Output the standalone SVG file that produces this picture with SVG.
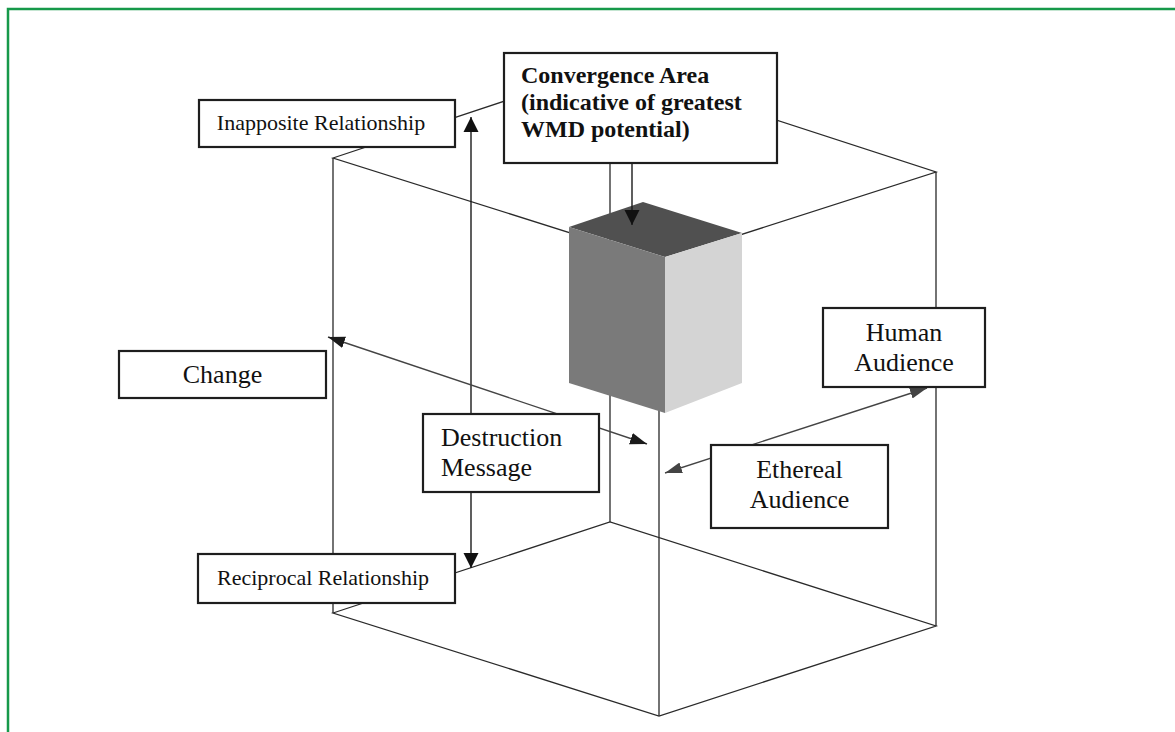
<svg xmlns="http://www.w3.org/2000/svg" width="1175" height="732" viewBox="0 0 1175 732">
<style>
.frame{fill:none;stroke:#16994a;stroke-width:2.5}
.edge{fill:none;stroke:#2a2a2a;stroke-width:1.3}
.conn{fill:none;stroke:#1a1a1a;stroke-width:1.4}
.conn2{fill:none;stroke:#444;stroke-width:1.4}
.box{fill:#fff;stroke:#1e1e1e;stroke-width:2.2}
.t{font-family:"Liberation Serif","Times New Roman",serif;fill:#111}
.s22{font-size:22px}
.s26{font-size:26px}
.b24{font-size:24px;font-weight:bold}
</style>
<defs>
<marker id="av" markerUnits="userSpaceOnUse" viewBox="0 0 16 16" markerWidth="16" markerHeight="16" refX="15" refY="8" orient="auto-start-reverse"><path d="M0,0.5 L15,8 L0,15.5 Z" fill="#111"/></marker>
<marker id="ad" markerUnits="userSpaceOnUse" viewBox="0 0 18 14" markerWidth="18" markerHeight="14" refX="17" refY="7" orient="auto-start-reverse"><path d="M0,1 L17,7 L0,13 Z" fill="#1a1a1a"/></marker>
<marker id="ag" markerUnits="userSpaceOnUse" viewBox="0 0 18 14" markerWidth="18" markerHeight="14" refX="17" refY="7" orient="auto-start-reverse"><path d="M0,1.5 L17,7 L0,12.5 Z" fill="#444"/></marker>
</defs>
<rect class="frame" x="8" y="9" width="1180" height="740"/>
<g id="wire-cube">
<path class="edge" d="M333,158 L610,66 L936,172 L659,261 Z"/>
<path class="edge" d="M333,613 L610,522 L936,626 L659,716 Z"/>
<path class="edge" d="M333,158 V613 M610,66 V522 M936,172 V626 M659,261 V716"/>
</g>
<g id="convergence-cube">
<polygon points="569,227 643,202 742,233 665,257" fill="#505050"/>
<polygon points="569,227 665,257 665,413 569,383" fill="#7a7a7a"/>
<polygon points="665,257 742,233 742,383 665,413" fill="#d4d4d4"/>
</g>
<g id="connectors">
<line class="conn" x1="632" y1="163" x2="632" y2="225" marker-end="url(#av)"/>
<line class="conn" x1="471" y1="414" x2="471" y2="117" marker-end="url(#av)"/>
<line class="conn" x1="471" y1="492" x2="471" y2="568" marker-end="url(#av)"/>
<line class="conn2" x1="328" y1="337" x2="647" y2="444" marker-start="url(#ad)" marker-end="url(#ad)"/>
<line class="conn2" x1="665" y1="473" x2="927" y2="388" marker-start="url(#ag)" marker-end="url(#ag)"/>
</g>
<g id="inapposite">
<rect class="box" x="199" y="100" width="256" height="47"/>
<text class="t s22" x="321" y="130" text-anchor="middle">Inapposite Relationship</text>
</g>
<g id="convergence">
<rect class="box" x="504" y="53" width="273" height="110"/>
<text class="t b24" x="521" y="83">Convergence Area</text>
<text class="t b24" x="521" y="110">(indicative of greatest</text>
<text class="t b24" x="521" y="137">WMD potential)</text>
</g>
<g id="change">
<rect class="box" x="119" y="351" width="207" height="47"/>
<text class="t s26" x="222.5" y="383" text-anchor="middle">Change</text>
</g>
<g id="destruction">
<rect class="box" x="423" y="414" width="176" height="78"/>
<text class="t s26" x="441" y="446">Destruction</text>
<text class="t s26" x="441" y="476">Message</text>
</g>
<g id="human">
<rect class="box" x="823" y="308" width="162" height="79"/>
<text class="t s26" x="904" y="341" text-anchor="middle">Human</text>
<text class="t s26" x="904" y="371" text-anchor="middle">Audience</text>
</g>
<g id="ethereal">
<rect class="box" x="711" y="445" width="177" height="83"/>
<text class="t s26" x="799.5" y="478" text-anchor="middle">Ethereal</text>
<text class="t s26" x="799.5" y="508" text-anchor="middle">Audience</text>
</g>
<g id="reciprocal">
<rect class="box" x="198" y="554" width="257" height="49"/>
<text class="t s22" x="217" y="585">Reciprocal Relationship</text>
</g>
</svg>
